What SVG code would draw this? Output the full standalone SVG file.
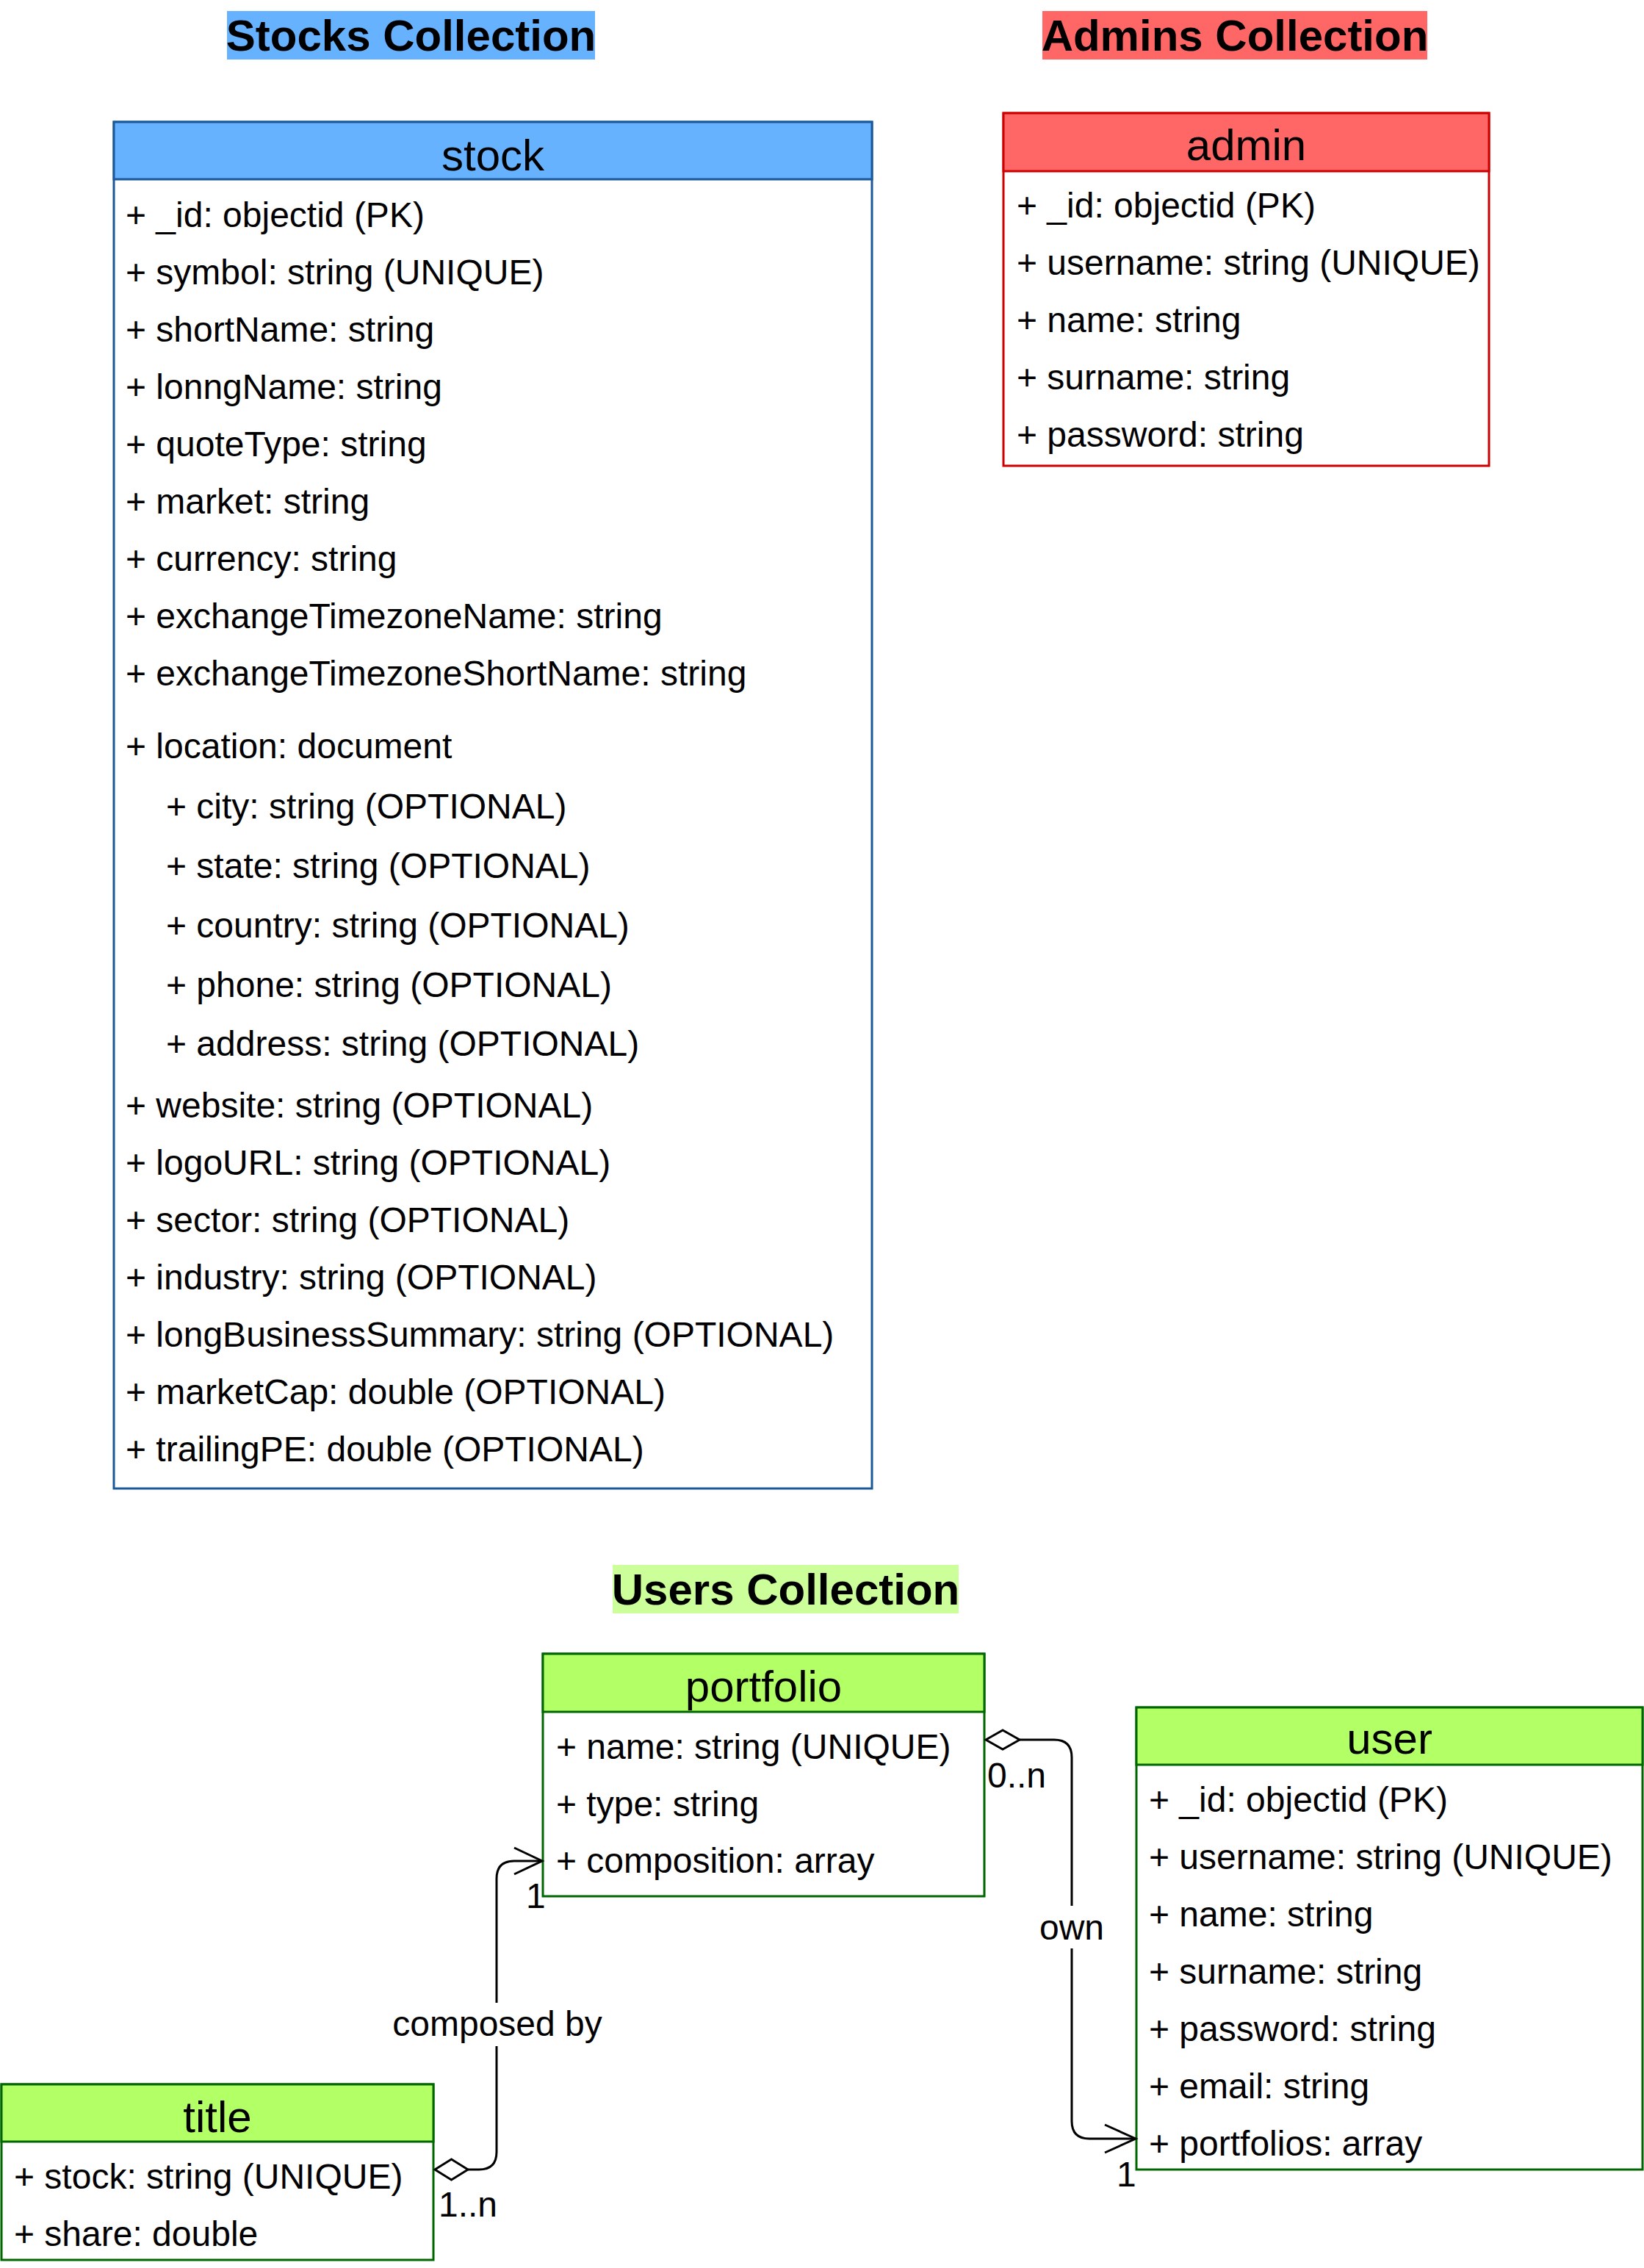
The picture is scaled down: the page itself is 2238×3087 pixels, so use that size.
<svg xmlns="http://www.w3.org/2000/svg" width="2238" height="3087" viewBox="0 0 2238 3087">
<style>
text{font-family:"Liberation Sans",Arial,sans-serif;fill:#000}
.t{font-size:48px}
.h{font-size:60px;text-anchor:middle}
.c{font-size:60px;font-weight:bold;text-anchor:middle}
.lbl{font-size:48px}
.ln{fill:none;stroke:#000;stroke-width:3}
.blue{stroke:#1A5899;stroke-width:3}
.red{stroke:#CC0000;stroke-width:3}
.green{stroke:#006600;stroke-width:3}
</style>
<rect width="2238" height="3087" fill="#fff"/>

<g id="title-stocks">
<rect x="309" y="15" width="501" height="66" fill="#66B2FF"/>
<text class="c" x="559.5" y="69">Stocks Collection</text>
</g>
<g id="title-admins">
<rect x="1419" y="15" width="524" height="66" fill="#FF6666"/>
<text class="c" x="1681" y="69">Admins Collection</text>
</g>
<g id="title-users">
<rect x="834" y="2130" width="471" height="66" fill="#CCFF99"/>
<text class="c" x="1069.5" y="2184">Users Collection</text>
</g>

<g id="stock">
<rect x="155" y="166" width="1032" height="1860" fill="#fff" class="blue"/>
<rect x="155" y="166" width="1032" height="78" fill="#66B2FF" class="blue"/>
<text class="h" x="671" y="232">stock</text>
<g class="t">
<text x="171" y="309">+ _id: objectid (PK)</text>
<text x="171" y="387">+ symbol: string (UNIQUE)</text>
<text x="171" y="465">+ shortName: string</text>
<text x="171" y="543">+ lonngName: string</text>
<text x="171" y="621">+ quoteType: string</text>
<text x="171" y="699">+ market: string</text>
<text x="171" y="777">+ currency: string</text>
<text x="171" y="855">+ exchangeTimezoneName: string</text>
<text x="171" y="933">+ exchangeTimezoneShortName: string</text>
<text x="171" y="1032">+ location: document</text>
<text x="226" y="1114">+ city: string (OPTIONAL)</text>
<text x="226" y="1195">+ state: string (OPTIONAL)</text>
<text x="226" y="1276">+ country: string (OPTIONAL)</text>
<text x="226" y="1357">+ phone: string (OPTIONAL)</text>
<text x="226" y="1437">+ address: string (OPTIONAL)</text>
<text x="171" y="1521">+ website: string (OPTIONAL)</text>
<text x="171" y="1599">+ logoURL: string (OPTIONAL)</text>
<text x="171" y="1677">+ sector: string (OPTIONAL)</text>
<text x="171" y="1755">+ industry: string (OPTIONAL)</text>
<text x="171" y="1833">+ longBusinessSummary: string (OPTIONAL)</text>
<text x="171" y="1911">+ marketCap: double (OPTIONAL)</text>
<text x="171" y="1989">+ trailingPE: double (OPTIONAL)</text>
</g>
</g>

<g id="admin">
<rect x="1366" y="154" width="661" height="480" fill="#fff" class="red"/>
<rect x="1366" y="154" width="661" height="79" fill="#FF6666" class="red"/>
<text class="h" x="1696.5" y="218">admin</text>
<g class="t">
<text x="1384" y="296">+ _id: objectid (PK)</text>
<text x="1384" y="374">+ username: string (UNIQUE)</text>
<text x="1384" y="452">+ name: string</text>
<text x="1384" y="530">+ surname: string</text>
<text x="1384" y="608">+ password: string</text>
</g>
</g>

<g id="portfolio">
<rect x="739" y="2251" width="601" height="330" fill="#fff" class="green"/>
<rect x="739" y="2251" width="601" height="79" fill="#B3FF66" class="green"/>
<text class="h" x="1039.5" y="2316">portfolio</text>
<g class="t">
<text x="757" y="2394">+ name: string (UNIQUE)</text>
<text x="757" y="2472">+ type: string</text>
<text x="757" y="2549">+ composition: array</text>
</g>
</g>

<g id="user">
<rect x="1547" y="2324" width="689" height="629" fill="#fff" class="green"/>
<rect x="1547" y="2324" width="689" height="78" fill="#B3FF66" class="green"/>
<text class="h" x="1891.5" y="2387">user</text>
<g class="t">
<text x="1564" y="2466">+ _id: objectid (PK)</text>
<text x="1564" y="2544">+ username: string (UNIQUE)</text>
<text x="1564" y="2622">+ name: string</text>
<text x="1564" y="2700">+ surname: string</text>
<text x="1564" y="2778">+ password: string</text>
<text x="1564" y="2856">+ email: string</text>
<text x="1564" y="2934">+ portfolios: array</text>
</g>
</g>

<g id="title">
<rect x="2" y="2837" width="588" height="239" fill="#fff" class="green"/>
<rect x="2" y="2837" width="588" height="78" fill="#B3FF66" class="green"/>
<text class="h" x="296" y="2902">title</text>
<g class="t">
<text x="19" y="2979">+ stock: string (UNIQUE)</text>
<text x="19" y="3057">+ share: double</text>
</g>
</g>

<g id="connectors">
<g id="own">
<path class="ln" d="M1388 2368 H1435 Q1459 2368 1459 2392 V2594 M1459 2652 V2887 Q1459 2911 1483 2911 H1545"/>
<path class="ln" d="M1342 2368 L1365 2355 L1388 2368 L1365 2381 Z" fill="#fff"/>
<path class="ln" d="M1504 2892 L1546 2911 L1504 2930"/>
<text class="lbl" x="1459" y="2640" text-anchor="middle">own</text>
<text class="lbl" x="1344" y="2433">0..n</text>
<text class="lbl" x="1520" y="2976">1</text>
</g>
<g id="composed">
<path class="ln" d="M637 2953 H652 Q676 2953 676 2929 V2785 M676 2726 V2557 Q676 2533 700 2533 H737"/>
<path class="ln" d="M592 2953 L614.5 2939 L637 2953 L614.5 2967 Z" fill="#fff"/>
<path class="ln" d="M700 2515 L738 2533 L700 2551"/>
<text class="lbl" x="677" y="2771" text-anchor="middle">composed by</text>
<text class="lbl" x="597" y="3017">1..n</text>
<text class="lbl" x="716" y="2597">1</text>
</g>
</g>
</svg>
